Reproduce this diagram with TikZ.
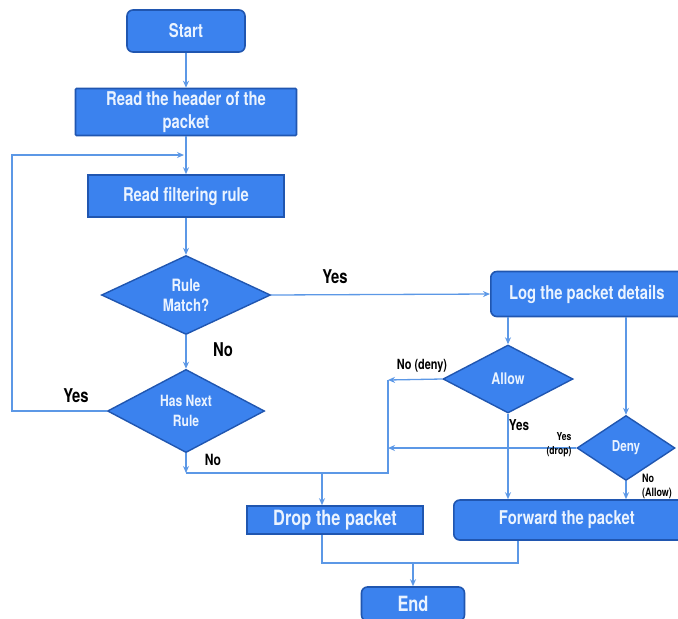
\documentclass[tikz,border=0pt]{standalone}
\usepackage{fontspec}
\setmainfont{TeX Gyre Heros}[FakeStretch=0.78]
\usetikzlibrary{shapes.geometric,arrows.meta}

\definecolor{boxblue}{RGB}{59,130,238}
\definecolor{edgeblue}{RGB}{32,86,176}
\definecolor{lineblue}{RGB}{92,152,230}
\definecolor{boxtext}{RGB}{234,243,255}

\begin{document}
\begin{tikzpicture}[x=1pt, y=-1pt]
\tikzset{
  proc/.style={draw=edgeblue, line width=1.6pt, fill=boxblue, text=boxtext,
    font=\fontsize{19}{23}\selectfont\bfseries, align=center, inner sep=0pt},
  term/.style={proc, rounded corners=6pt},
  dec/.style={diamond, draw=edgeblue, line width=1.4pt, fill=boxblue, text=boxtext,
    align=center, inner sep=0pt},
  line/.style={draw=lineblue, line width=1.3pt},
  arr/.style={line, -{Stealth[length=7pt, width=6pt]}},
  lab/.style={font=\fontsize{19}{21}\selectfont\bfseries, align=center},
  slab/.style={font=\fontsize{14}{16}\selectfont\bfseries, align=center}}
\useasboundingbox (0,0) rectangle (678,619);
\clip (0,0) rectangle (678,619);

% ---------------- left column: read and match ----------------
\node[term, minimum width=118pt, minimum height=42pt] (start) at (186,31) {Start};
\node[proc, minimum width=221pt, minimum height=47pt, rounded corners=1pt] (header) at (186,112)
  {Read the header of the\\packet};
\node[proc, minimum width=196pt, minimum height=42pt] (rule) at (186,196) {Read filtering rule};
\node[dec, minimum width=169pt, minimum height=75pt, font=\fontsize{17}{20}\selectfont\bfseries]
  (match) at (186,295) {Rule\\Match?};
\node[dec, minimum width=157pt, minimum height=74pt, font=\fontsize{15.5}{20}\selectfont\bfseries]
  (next) at (186,411) {Has Next\\Rule};

\coordinate (loopin) at (184,155);
\coordinate (loopl) at (12,411);
\coordinate (nocorner) at (186,473);

\draw[arr] (start) -- (header);
\draw[arr] (header) -- (rule);
\draw[arr] (rule) -- (match);
\draw[arr] (match) -- (next);
\draw[arr] (next.west) -- (loopl) |- (loopin);
\draw[arr] (next.south) -- (nocorner);

\node[lab] (ylab1) at (335,277) {Yes};
\node[lab] (nlab1) at (223,350) {No};
\node[lab] (ylab2) at (76,396) {Yes};
\node[font=\fontsize{15.5}{17}\selectfont\bfseries] (nlab2) at (213,460) {No};

% ---------------- right column: log, allow, deny ----------------
\node[term, minimum width=194pt, minimum height=45pt, anchor=west] (log) at (490,294)
  {\hspace*{-2pt}Log the packet details};
\node[dec, minimum width=130pt, minimum height=68pt, font=\fontsize{16}{18}\selectfont\bfseries]
  (allow) at (508,379) {Allow};
\node[dec, minimum width=98pt, minimum height=65pt, font=\fontsize{15}{17}\selectfont\bfseries]
  (deny) at (626,448) {Deny};

\draw[arr] (match.east) -- (log.west);
\draw[arr] (allow.north |- log.south) -- (allow.north);
\draw[arr] (deny.north |- log.south) -- (deny.north);

\coordinate (jtop) at (388,380);
\coordinate (jmid) at (388,448);
\coordinate (jbot) at (388,473);
\coordinate (jdrop) at (322,473);

\draw[arr] (allow.west) -- (jtop);
\draw[arr] (deny.west) -- (jmid);
\draw[line] (nocorner) -- (jbot) -- (jtop);

\node[slab] (nlab3) at (422,366) {No (deny)};
\node[font=\fontsize{15}{17}\selectfont\bfseries] (ylab3) at (519,425) {Yes};
\node[font=\fontsize{11}{14}\selectfont\bfseries, align=right] (ylab4) at (559,445) {Yes\\(drop)};
\node[font=\fontsize{11.5}{14}\selectfont\bfseries, align=left] (nlab4) at (657,486) {No\\(Allow)};

% ---------------- bottom: drop, forward, end ----------------
\node[proc, minimum width=176pt, minimum height=28pt, font=\fontsize{21}{23}\selectfont\bfseries]
  (drop) at (335,520) {Drop the packet};
\node[term, minimum width=234pt, minimum height=40pt, anchor=west] (fwd) at (453,520)
  {\hspace*{-4pt}Forward the packet\hspace*{4pt}};
\node[term, minimum width=103pt, minimum height=34pt, font=\fontsize{21}{23}\selectfont\bfseries]
  (end) at (413,604) {End};

\draw[arr] (jdrop) -- (jdrop |- drop.north);
\draw[arr] (allow.south) -- (allow.south |- fwd.north);
\draw[arr] (deny.south) -- (deny.south |- fwd.north);

\coordinate (dl) at (322,563);
\coordinate (fr) at (518,563);
\draw[line] (dl |- drop.south) -- (dl) -- (fr) -- (fr |- fwd.south);
\draw[arr] (end.north |- dl) -- (end.north);
\end{tikzpicture}
\end{document}
